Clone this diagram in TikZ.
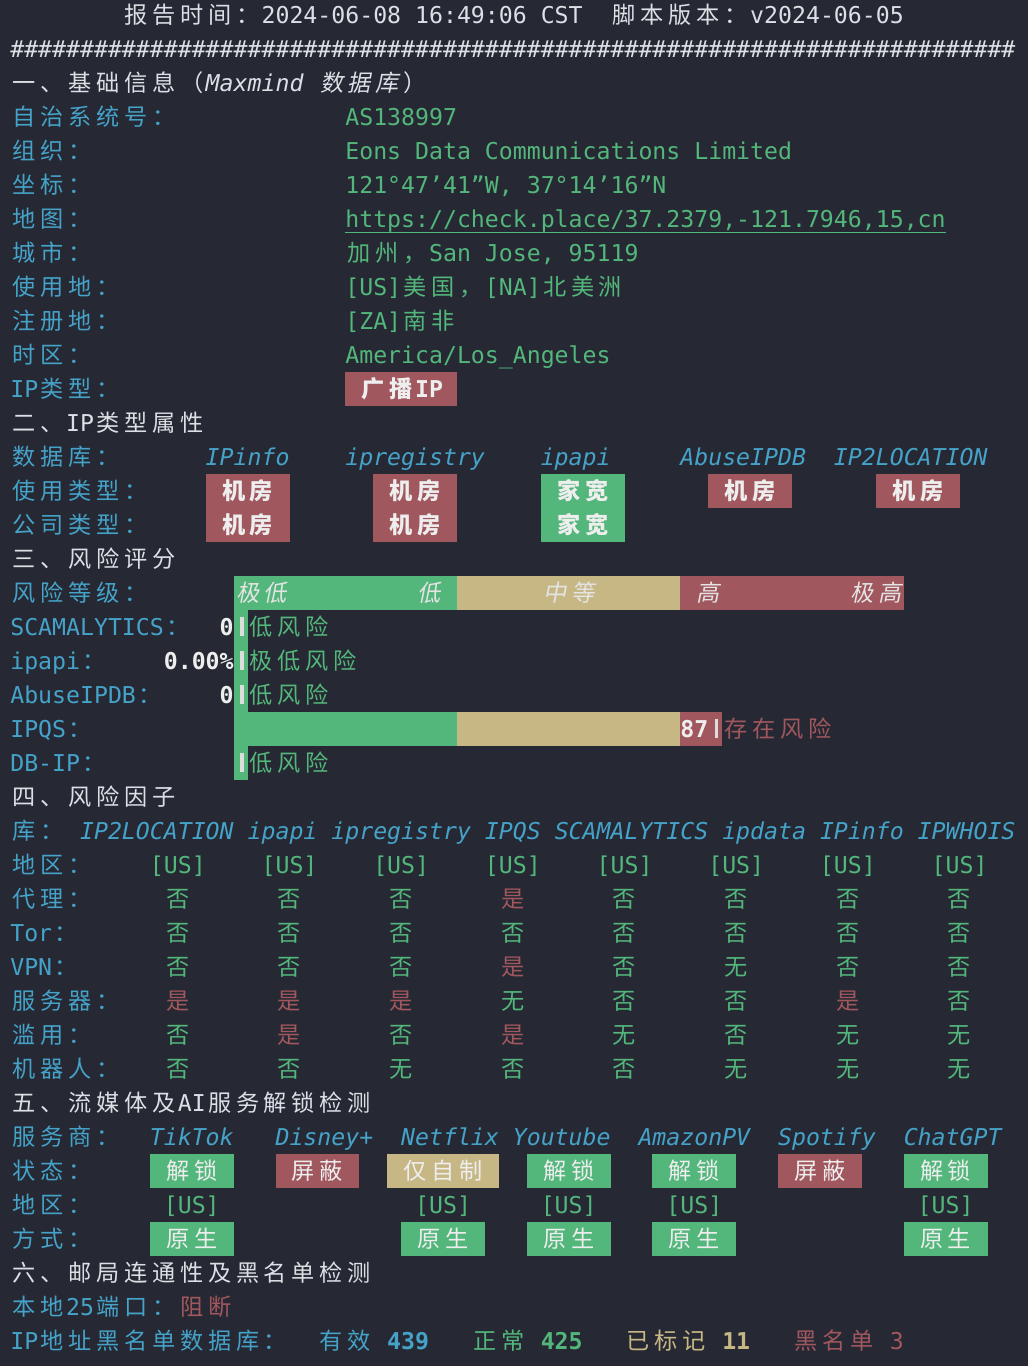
\documentclass[tikz,border=0pt]{standalone}
\usepackage{fontspec}
\setmainfont{DejaVu Sans Mono}[ItalicFont={DejaVu Sans Mono Oblique},BoldFont={DejaVu Sans Mono Bold},BoldItalicFont={DejaVu Sans Mono Bold Oblique}]
\newfontfamily\cjkf{Noto Sans CJK SC}
\newfontfamily\cjki{Noto Sans CJK SC}[FakeSlant=0.2]
\definecolor{bg}{HTML}{262933}
\definecolor{fg}{HTML}{DCDFE4}
\definecolor{blu}{HTML}{45A2C8}
\definecolor{grn}{HTML}{53B67B}
\definecolor{red}{HTML}{A1575E}
\definecolor{tan}{HTML}{C7B785}
\definecolor{wt}{HTML}{EEEEEE}
\definecolor{bt}{HTML}{E4E4E4}
\definecolor{lb}{HTML}{DDDDDD}
\newlength\cw \setlength\cw{27.92pt}
\def\cjloop#1{\ifx\relax#1\else\makebox[\cw][c]{\cjkf #1}\expandafter\cjloop\fi}
\def\cjiloop#1{\ifx\relax#1\else\makebox[\cw][c]{\cjki #1}\expandafter\cjiloop\fi}
\newcommand\cj[1]{\cjloop#1\relax}
\newcommand\cji[1]{\cjiloop#1\relax}
\newcommand\hh{\#\#\#\#\#\#\#\#}
\newcounter{tn}
\newcommand\tx[4][]{\stepcounter{tn}\node[txt,#1] (t\arabic{tn}) at ({10.3+13.96*(#2)},{23.5+34*(#3)}) {#4};}
\newcommand\bx[4]{\fill[#4] ({10.3+13.96*(#1)},{-2+34*(#3)}) rectangle ({10.3+13.96*(#2)},{32+34*(#3)});}
\newcommand\vbar[2]{\fill[lb] ({10.3+13.96*(#1)+6.5},{5+34*(#2)}) rectangle ++(3.5,19);}
\newcommand\fy[2]{\tx[red]{11+8*#2}{#1}{\cj{是}}}
\newcommand\fn[2]{\tx[grn]{11+8*#2}{#1}{\cj{否}}}
\newcommand\fw[2]{\tx[grn]{11+8*#2}{#1}{\cj{无}}}
\begin{document}
\begin{tikzpicture}[x=1pt,y=-1pt,
  txt/.style={anchor=base west,inner sep=0pt,outer sep=0pt,font=\fontsize{23.19}{28}\selectfont}]
\useasboundingbox (0,0) rectangle (1028,1366);
\fill[bg] (0,0) rectangle (1028,1366);
% header
\tx[fg]{8}{0}{\cj{报告时间：}2024-06-08 16:49:06 CST\ \ \cj{脚本版本：}v2024-06-05}
\tx[fg]{0}{1}{\hh\hh\hh\hh\hh\hh\hh\hh\hh}
% section 1
\tx[fg]{0}{2}{\cj{一、基础信息（}\textit{Maxmind} \cji{数据库}\cj{）}}
\tx[blu]{0}{3}{\cj{自治系统号：}} \tx[grn]{24}{3}{AS138997}
\tx[blu]{0}{4}{\cj{组织：}} \tx[grn]{24}{4}{Eons Data Communications Limited}
\tx[blu]{0}{5}{\cj{坐标：}} \tx[grn]{24}{5}{121°47’41”W, 37°14’16”N}
\tx[blu]{0}{6}{\cj{地图：}} \tx[grn]{24}{6}{https://check.place/37.2379,-121.7946,15,cn}
\draw[grn,line width=1.6pt] (t\arabic{tn}.base west) ++(0,5) -- ++({43*13.96},0);
\tx[blu]{0}{7}{\cj{城市：}} \tx[grn]{24}{7}{\cj{加州，}San Jose, 95119}
\tx[blu]{0}{8}{\cj{使用地：}} \tx[grn]{24}{8}{[US]\cj{美国，}[NA]\cj{北美洲}}
\tx[blu]{0}{9}{\cj{注册地：}} \tx[grn]{24}{9}{[ZA]\cj{南非}}
\tx[blu]{0}{10}{\cj{时区：}} \tx[grn]{24}{10}{America/Los\_Angeles}
\tx[blu]{0}{11}{IP\cj{类型：}}
\bx{24}{32}{11}{red} \tx[wt]{25}{11}{\bfseries\cj{广播}IP}
% section 2
\tx[fg]{0}{12}{\cj{二、}IP\cj{类型属性}}
\tx[blu]{0}{13}{\cj{数据库：}}
\tx[blu]{14}{13}{\itshape IPinfo}
\tx[blu]{24}{13}{\itshape ipregistry}
\tx[blu]{38}{13}{\itshape ipapi}
\tx[blu]{48}{13}{\itshape AbuseIPDB}
\tx[blu]{59}{13}{\itshape IP2LOCATION}
\tx[blu]{0}{14}{\cj{使用类型：}}
\bx{14}{20}{14}{red}\bx{26}{32}{14}{red}\bx{38}{44}{14}{grn}\bx{50}{56}{14}{red}\bx{62}{68}{14}{red}
\tx[wt]{15}{14}{\bfseries\cj{机房}} \tx[wt]{27}{14}{\bfseries\cj{机房}} \tx[wt]{39}{14}{\bfseries\cj{家宽}}
\tx[wt]{51}{14}{\bfseries\cj{机房}} \tx[wt]{63}{14}{\bfseries\cj{机房}}
\tx[blu]{0}{15}{\cj{公司类型：}}
\bx{14}{20}{15}{red}\bx{26}{32}{15}{red}\bx{38}{44}{15}{grn}
\tx[wt]{15}{15}{\bfseries\cj{机房}} \tx[wt]{27}{15}{\bfseries\cj{机房}} \tx[wt]{39}{15}{\bfseries\cj{家宽}}
% section 3
\tx[fg]{0}{16}{\cj{三、风险评分}}
\tx[blu]{0}{17}{\cj{风险等级：}}
\bx{16}{32}{17}{grn}\bx{32}{48}{17}{tan}\bx{48}{64}{17}{red}
\fill[grn] ({10.3+13.96*16},{32+34*17}) rectangle ({10.3+13.96*17},{32+34*22});
\tx[bt]{16}{17}{\cji{极低}} \tx[bt]{29}{17}{\cji{低}} \tx[bt]{38}{17}{\cji{中等}}
\tx[bt]{49}{17}{\cji{高}} \tx[bt]{60}{17}{\cji{极高}}
\tx[blu]{0}{18}{SCAMALYTICS\cj{：}} \tx[wt]{15}{18}{\bfseries 0} \vbar{16}{18} \tx[grn]{17}{18}{\cj{低风险}}
\tx[blu]{0}{19}{ipapi\cj{：}} \tx[wt]{11}{19}{\bfseries 0.00\%} \vbar{16}{19} \tx[grn]{17}{19}{\cj{极低风险}}
\tx[blu]{0}{20}{AbuseIPDB\cj{：}} \tx[wt]{15}{20}{\bfseries 0} \vbar{16}{20} \tx[grn]{17}{20}{\cj{低风险}}
\tx[blu]{0}{21}{IPQS\cj{：}}
\bx{16}{32}{21}{grn}\bx{32}{48}{21}{tan}\bx{48}{51}{21}{red}
\tx[wt]{48}{21}{\bfseries 87} \vbar{50}{21} \tx[red]{51}{21}{\cj{存在风险}}
\tx[blu]{0}{22}{DB-IP\cj{：}} \vbar{16}{22} \tx[grn]{17}{22}{\cj{低风险}}
% section 4
\tx[fg]{0}{23}{\cj{四、风险因子}}
\tx[blu]{0}{24}{\cj{库：}}
\tx[blu]{5}{24}{\itshape IP2LOCATION ipapi ipregistry IPQS SCAMALYTICS ipdata IPinfo IPWHOIS}
\tx[blu]{0}{25}{\cj{地区：}}
\foreach \k in {0,...,7} {\tx[grn]{10+8*\k}{25}{[US]}}
\tx[blu]{0}{26}{\cj{代理：}}
\fn{26}{0}\fn{26}{1}\fn{26}{2}\fy{26}{3}\fn{26}{4}\fn{26}{5}\fn{26}{6}\fn{26}{7}
\tx[blu]{0}{27}{Tor\cj{：}}
\fn{27}{0}\fn{27}{1}\fn{27}{2}\fn{27}{3}\fn{27}{4}\fn{27}{5}\fn{27}{6}\fn{27}{7}
\tx[blu]{0}{28}{VPN\cj{：}}
\fn{28}{0}\fn{28}{1}\fn{28}{2}\fy{28}{3}\fn{28}{4}\fw{28}{5}\fn{28}{6}\fn{28}{7}
\tx[blu]{0}{29}{\cj{服务器：}}
\fy{29}{0}\fy{29}{1}\fy{29}{2}\fw{29}{3}\fn{29}{4}\fn{29}{5}\fy{29}{6}\fn{29}{7}
\tx[blu]{0}{30}{\cj{滥用：}}
\fn{30}{0}\fy{30}{1}\fn{30}{2}\fy{30}{3}\fw{30}{4}\fn{30}{5}\fw{30}{6}\fw{30}{7}
\tx[blu]{0}{31}{\cj{机器人：}}
\fn{31}{0}\fn{31}{1}\fw{31}{2}\fn{31}{3}\fn{31}{4}\fw{31}{5}\fw{31}{6}\fw{31}{7}
% section 5
\tx[fg]{0}{32}{\cj{五、流媒体及}AI\cj{服务解锁检测}}
\tx[blu]{0}{33}{\cj{服务商：}}
\tx[blu]{10}{33}{\itshape TikTok} \tx[blu]{19}{33}{\itshape Disney+} \tx[blu]{28}{33}{\itshape Netflix}
\tx[blu]{36}{33}{\itshape Youtube} \tx[blu]{45}{33}{\itshape AmazonPV} \tx[blu]{55}{33}{\itshape Spotify}
\tx[blu]{64}{33}{\itshape ChatGPT}
\tx[blu]{0}{34}{\cj{状态：}}
\bx{10}{16}{34}{grn}\bx{19}{25}{34}{red}\bx{27}{35}{34}{tan}\bx{37}{43}{34}{grn}\bx{46}{52}{34}{grn}\bx{55}{61}{34}{red}\bx{64}{70}{34}{grn}
\tx[wt]{11}{34}{\cj{解锁}} \tx[wt]{20}{34}{\cj{屏蔽}} \tx[wt]{28}{34}{\cj{仅自制}} \tx[wt]{38}{34}{\cj{解锁}}
\tx[wt]{47}{34}{\cj{解锁}} \tx[wt]{56}{34}{\cj{屏蔽}} \tx[wt]{65}{34}{\cj{解锁}}
\tx[blu]{0}{35}{\cj{地区：}}
\tx[grn]{11}{35}{[US]} \tx[grn]{29}{35}{[US]} \tx[grn]{38}{35}{[US]} \tx[grn]{47}{35}{[US]} \tx[grn]{65}{35}{[US]}
\tx[blu]{0}{36}{\cj{方式：}}
\bx{10}{16}{36}{grn}\bx{28}{34}{36}{grn}\bx{37}{43}{36}{grn}\bx{46}{52}{36}{grn}\bx{64}{70}{36}{grn}
\tx[wt]{11}{36}{\cj{原生}} \tx[wt]{29}{36}{\cj{原生}} \tx[wt]{38}{36}{\cj{原生}} \tx[wt]{47}{36}{\cj{原生}} \tx[wt]{65}{36}{\cj{原生}}
% section 6
\tx[fg]{0}{37}{\cj{六、邮局连通性及黑名单检测}}
\tx[blu]{0}{38}{\cj{本地}25\cj{端口：}} \tx[red]{12}{38}{\cj{阻断}}
\tx[blu]{0}{39}{IP\cj{地址黑名单数据库：}}
\tx[blu]{22}{39}{\cj{有效}} \tx[blu]{27}{39}{\bfseries 439}
\tx[grn]{33}{39}{\cj{正常}} \tx[grn]{38}{39}{\bfseries 425}
\tx[tan]{44}{39}{\cj{已标记}} \tx[tan]{51}{39}{\bfseries 11}
\tx[red]{56}{39}{\cj{黑名单}} \tx[red]{63}{39}{3}
\end{tikzpicture}
\end{document}
